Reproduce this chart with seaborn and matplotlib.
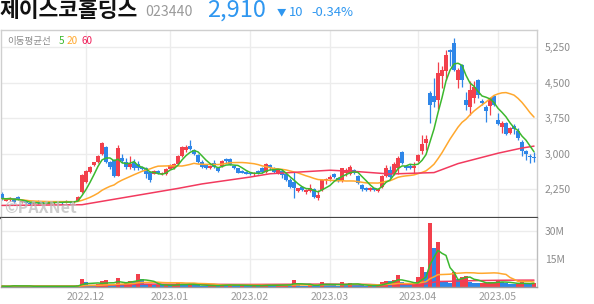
import numpy as np
import pandas as pd
import matplotlib
matplotlib.use("Agg")
import matplotlib.pyplot as plt
import seaborn as sns

# ---------------- data ----------------
month_labels = ["2022.12", "2023.01", "2023.02", "2023.03", "2023.04", "2023.05"]
month_starts = [21, 42, 62, 82, 104, 124]

opens = [
    2150, 2000, 2020, 2060, 2080, 1970, 1990, 1960, 1930, 1990,
    1980, 1950, 1940, 1950, 1960, 1990, 1960, 1990, 1970, 2000,
    2180, 2410, 2620, 2760, 2830, 2985, 3135, 2815, 2865, 2535,
    2900, 2815, 2725, 2830, 2780, 2710, 2690, 2620, 2580, 2640,
    2570, 2560, 2680, 2700, 2780, 2960, 3080, 3170, 3077, 2972,
    2817, 2760, 2690, 2795, 2703, 2745, 2886, 2880, 2745, 2690,
    2640, 2620, 2600, 2560, 2630, 2700, 2620, 2760, 2690, 2600,
    2640, 2580, 2440, 2410, 2215, 2290, 2195, 2200, 2250, 2070,
    2230, 2440, 2470, 2575, 2480, 2420, 2590, 2575, 2650, 2518,
    2336, 2280, 2230, 2265, 2210, 2300, 2520, 2650, 2580, 2690,
    3040, 2740, 2730, 2700, 2850, 3050, 3220, 4280, 4230, 4140,
    4640, 4740, 5200, 5340, 4560, 4880, 4137, 3980, 4170, 4560,
    4120, 3995, 4000, 4230, 3720, 3570, 3650, 3430, 3580, 3490,
    3240, 3060, 2960, 2940]
highs = [
    2180, 2060, 2090, 2070, 2100, 2000, 2000, 1980, 1960, 2010,
    2000, 1970, 1980, 1990, 2000, 2000, 2010, 2000, 2000, 2100,
    2560, 2660, 2740, 2830, 2970, 3240, 3160, 2840, 2880, 3185,
    2985, 2900, 2960, 2885, 2850, 2730, 2720, 2640, 2660, 2660,
    2620, 2700, 2780, 2800, 2980, 3170, 3180, 3290, 3100, 3000,
    2860, 2780, 2760, 2860, 2720, 2870, 2900, 2900, 2760, 2700,
    2660, 2640, 2620, 2610, 2650, 2720, 2800, 2790, 2710, 2680,
    2660, 2600, 2480, 2618, 2280, 2310, 2250, 2360, 2270, 2240,
    2470, 2480, 2540, 2600, 2500, 2700, 2690, 2770, 2680, 2540,
    2360, 2300, 2290, 2280, 2260, 2540, 2750, 2740, 2830, 2960,
    3060, 2760, 2790, 2830, 3000, 3390, 3395, 4320, 4610, 4950,
    4850, 5200, 5210, 5445, 4810, 4900, 4300, 4530, 4530, 4580,
    4160, 4030, 4200, 4240, 3860, 3700, 3670, 3560, 3630, 3540,
    3300, 3070, 3000, 3040]
lows = [
    2030, 1990, 2000, 1960, 2010, 1950, 1930, 1910, 1920, 1940,
    1950, 1930, 1930, 1940, 1950, 1940, 1950, 1950, 1960, 1990,
    2170, 2380, 2600, 2740, 2810, 2970, 2810, 2680, 2500, 2520,
    2800, 2680, 2680, 2650, 2650, 2650, 2480, 2405, 2560, 2570,
    2550, 2540, 2670, 2670, 2760, 2940, 3040, 3080, 2970, 2800,
    2700, 2670, 2680, 2690, 2620, 2720, 2800, 2760, 2680, 2590,
    2590, 2560, 2540, 2520, 2580, 2600, 2600, 2660, 2600, 2560,
    2480, 2420, 2280, 2060, 2190, 2220, 2150, 2180, 2060, 2020,
    2210, 2360, 2420, 2480, 2410, 2400, 2530, 2540, 2560, 2360,
    2220, 2210, 2210, 2200, 2180, 2280, 2500, 2490, 2540, 2580,
    2780, 2660, 2680, 2600, 2820, 2990, 3077, 3650, 3990, 3940,
    4400, 4560, 4850, 4760, 4390, 4420, 3925, 3820, 4080, 4180,
    4030, 3670, 3820, 4000, 3600, 3430, 3400, 3420, 3420, 3300,
    2950, 2860, 2800, 2830]
closes = [
    2050, 2040, 2060, 1980, 2020, 1990, 1950, 1930, 1950, 1960,
    1960, 1960, 1970, 1975, 1985, 1960, 1995, 1965, 1990, 2080,
    2540, 2630, 2720, 2815, 2955, 3220, 2830, 2725, 2525, 3120,
    2845, 2725, 2775, 2690, 2705, 2670, 2560, 2440, 2640, 2585,
    2600, 2680, 2760, 2790, 2960, 3150, 3135, 3100, 2990, 2817,
    2724, 2690, 2740, 2724, 2640, 2845, 2845, 2775, 2690, 2600,
    2600, 2570, 2560, 2600, 2590, 2620, 2780, 2690, 2618, 2650,
    2550, 2440, 2300, 2265, 2265, 2240, 2240, 2270, 2090, 2120,
    2450, 2465, 2510, 2500, 2430, 2690, 2650, 2715, 2590, 2372,
    2250, 2230, 2270, 2230, 2250, 2520, 2700, 2510, 2790, 2900,
    2800, 2700, 2690, 2730, 2970, 3200, 3310, 4030, 4100, 4700,
    4780, 5090, 5160, 4770, 4770, 4560, 4030, 4350, 4420, 4240,
    4070, 3895, 4170, 4040, 3630, 3640, 3420, 3540, 3520, 3330,
    3050, 2990, 2920, 2910]
volumes_m = [
    0.3, 0.2, 0.3, 1.0, 0.3, 0.2, 0.3, 0.2, 0.2, 0.3,
    0.3, 0.2, 0.2, 0.3, 0.2, 0.3, 0.2, 0.2, 0.3, 0.9,
    4.1, 2.7, 1.0, 0.8, 1.5, 3.0, 3.6, 1.5, 1.0, 4.8,
    1.5, 1.8, 3.0, 2.9, 6.8, 4.1, 1.2, 1.4, 0.9, 1.0,
    0.7, 0.8, 0.7, 0.9, 1.8, 1.5, 0.8, 1.3, 0.9, 0.8,
    0.6, 0.5, 0.6, 0.8, 0.5, 1.2, 0.9, 1.0, 0.7, 0.6,
    0.8, 0.5, 0.5, 0.6, 0.5, 0.7, 1.2, 0.8, 0.6, 0.7,
    0.9, 1.3, 1.2, 3.6, 0.9, 0.6, 0.5, 1.0, 0.9, 0.8,
    2.7, 1.0, 0.8, 0.7, 0.6, 2.7, 1.2, 1.8, 0.9, 0.8,
    0.7, 0.5, 0.6, 0.5, 0.6, 2.7, 3.2, 3.0, 3.5, 6.2,
    2.3, 0.9, 0.7, 0.8, 5.4, 10.8, 8.1, 34.5, 20.7, 23.9,
    2.7, 2.5, 1.8, 8.0, 3.9, 5.4, 5.9, 2.7, 2.2, 1.8,
    1.9, 2.0, 2.3, 2.7, 3.0, 2.7, 1.8, 1.5, 1.3, 1.6,
    3.0, 1.3, 1.2, 1.8]
# 60-day moving average (index, price)
ma60_idx = [0, 20, 44, 50, 62, 67, 82, 89, 97, 108, 114, 124, 130, 133]
ma60_val = [1905, 1920, 2265, 2360, 2505, 2575, 2650, 2620, 2570, 2600, 2790, 3010, 3120, 3160]
price_ticks = [2250, 3000, 3750, 4500, 5250]
vol_ticks = [15e6, 30e6]
vol_tick_labels = ["15M", "30M"]

# ---------------- style ----------------
RED = "#f2404c"
BLUE = "#2e86e8"
GREEN = "#3cb82e"
ORANGE = "#ffa82e"
MA60C = "#f23a5e"
GRID = "#ececec"
TXT = "#8c8c8c"

sns.set_theme(style="white")
plt.rcParams["font.family"] = ["Noto Sans CJK KR", "DejaVu Sans"]

df = pd.DataFrame({"i": np.arange(len(closes)), "open": opens, "high": highs,
                   "low": lows, "close": closes, "vol": np.array(volumes_m) * 1e6})
df["ma5"] = df["close"].rolling(5, min_periods=1).mean()
df["ma20"] = df["close"].rolling(20, min_periods=1).mean()
df["v5"] = df["vol"].rolling(5, min_periods=1).mean()
df["v20"] = df["vol"].rolling(20, min_periods=1).mean()
df["v60"] = df["vol"].rolling(60, min_periods=1).mean()

W, H = 594, 304
fig = plt.figure(figsize=(W / 100, H / 100), dpi=100)


def rect(l, t, r, b):
    return [l / W, 1 - b / H, (r - l) / W, (b - t) / H]


ax = fig.add_axes(rect(0.5, 30, 537, 217.7))
axv = fig.add_axes(rect(0.5, 217.7, 537, 286.7), sharex=ax)

for a in (ax, axv):
    a.set_facecolor("white")
    a.grid(True, color=GRID, lw=1.0, zorder=0)
    a.set_axisbelow(True)

# candles
up = df["close"] >= df["open"]
ccol = np.where(up, RED, BLUE)
ax.vlines(df["i"], df["low"], df["high"], colors=ccol, lw=0.9, zorder=2)
body_bot = np.minimum(df["open"], df["close"])
body_h = np.maximum((df["close"] - df["open"]).abs(), 16)
ax.bar(df["i"], body_h, bottom=body_bot, width=0.78, color=ccol, lw=0, zorder=3)

sns.lineplot(x=df["i"], y=df["ma20"], ax=ax, color=ORANGE, lw=1.1, zorder=4, legend=False)
sns.lineplot(x=ma60_idx, y=ma60_val, ax=ax, color=MA60C, lw=1.1, zorder=4, legend=False)
sns.lineplot(x=df["i"], y=df["ma5"], ax=ax, color=GREEN, lw=1.1, zorder=5, legend=False)

ax.set_xlim(-0.375, 133.75)
ax.set_ylim(1645, 5618)
ax.set_yticks(price_ticks)
ax.set_yticklabels([f"{v:,}" for v in price_ticks])
ax.yaxis.tick_right()
ax.tick_params(axis="y", length=0, pad=5.5, labelsize=7.5, labelcolor=TXT)
ax.set_xticks(month_starts)
ax.tick_params(axis="x", length=0, labelbottom=False)
ax.set_xlabel("")
ax.set_ylabel("")

# volume
vcol = [RED] + [RED if df["vol"][k] > df["vol"][k - 1] else BLUE for k in range(1, len(df))]
axv.bar(df["i"], df["vol"], width=0.78, color=vcol, lw=0, zorder=2)
sns.lineplot(x=df["i"], y=df["v60"], ax=axv, color=MA60C, lw=1.1, zorder=3, legend=False)
sns.lineplot(x=df["i"], y=df["v20"], ax=axv, color=ORANGE, lw=1.1, zorder=3, legend=False)
sns.lineplot(x=df["i"], y=df["v5"], ax=axv, color=GREEN, lw=1.1, zorder=4, legend=False)
axv.set_ylim(0, 37.2e6)
axv.set_yticks(vol_ticks)
axv.set_yticklabels(vol_tick_labels)
axv.yaxis.tick_right()
axv.tick_params(axis="y", length=0, pad=5.5, labelsize=7.5, labelcolor=TXT)
axv.set_xticks(month_starts)
axv.set_xticklabels(month_labels)
axv.tick_params(axis="x", length=0, pad=3.5, labelsize=7.6, labelcolor="#9a9a9a")
axv.set_xlabel("")
axv.set_ylabel("")

# spines
for s in ("top", "left", "right"):
    ax.spines[s].set_color("#cfcfcf")
    ax.spines[s].set_linewidth(1.0)
ax.spines["bottom"].set_color("#444444")
ax.spines["bottom"].set_linewidth(1.6)
axv.spines["top"].set_visible(False)
axv.spines["left"].set_color("#cfcfcf")
axv.spines["right"].set_color("#bdbdbd")
axv.spines["bottom"].set_color("#9a9a9a")
for s in ("left", "right", "bottom"):
    axv.spines[s].set_linewidth(1.0)


def ftext(x, y, s, **kw):
    fig.text(x / W, 1 - y / H, s, va="center", ha="left", **kw)


# header
ftext(0, 10.5, "제이스코홀딩스", fontsize=15.5, fontweight="bold", color="#111111")
ftext(145, 12.5, "023440", fontsize=10.2, color="#9a9a9a")
ftext(207, 10.5, "2,910", fontsize=17, color="#2f97f0")
ftext(277, 12.5, "▼", fontsize=6.8, color="#2f97f0")
ftext(289, 12.5, "10", fontsize=9.4, color="#2f97f0")
ftext(311, 12.5, "-0.34%", fontsize=9.4, color="#2f97f0")

# MA legend
ftext(7, 41.5, "이동평균선", fontsize=6.9, color="#8c8c8c")
ftext(59, 41.5, "5", fontsize=7.2, color=GREEN)
ftext(67, 41.5, "20", fontsize=7.2, color=ORANGE)
ftext(82, 41.5, "60", fontsize=7.2, color="#f0205a")

# watermark
ftext(4, 208, "©PAXNet", fontsize=11.5, fontweight="bold", style="italic",
      color="#bdbdbd", alpha=0.75)

fig.savefig("out.png", dpi=100, facecolor="white")
